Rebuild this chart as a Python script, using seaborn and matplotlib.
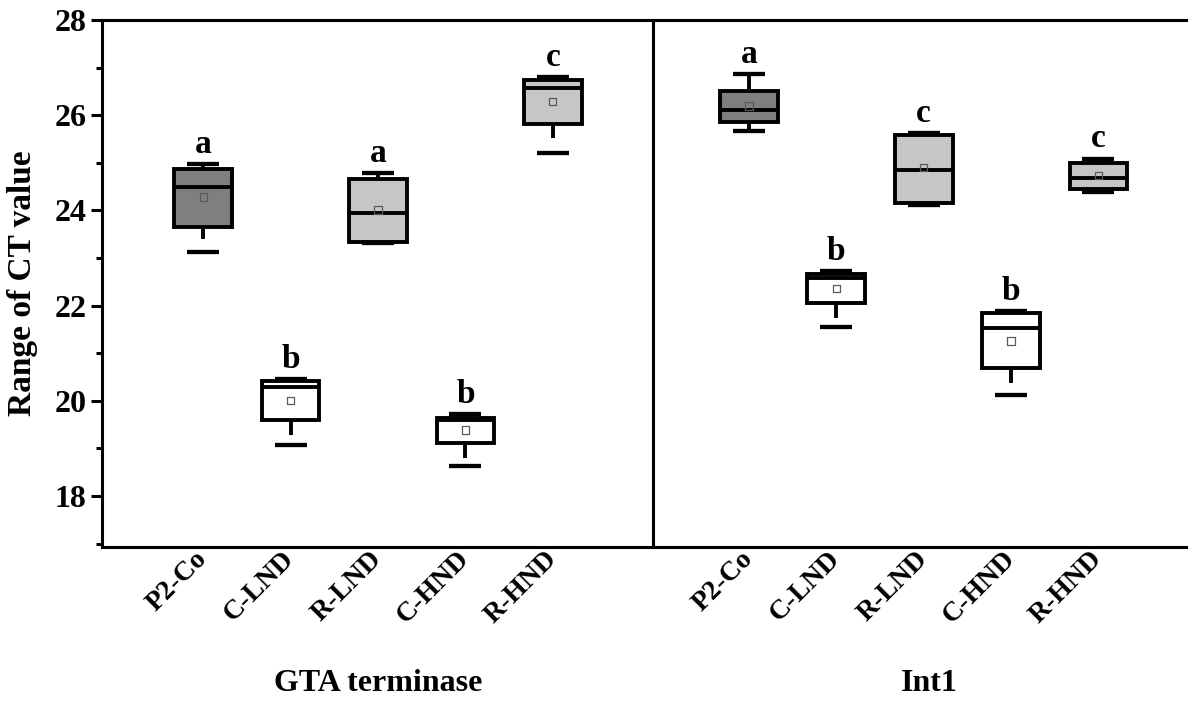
import numpy as np
import pandas as pd
import matplotlib
matplotlib.use("Agg")
import matplotlib.pyplot as plt
import seaborn as sns
from matplotlib.ticker import MultipleLocator

# ---------------- data ----------------
groups = ["P2-Co", "C-LND", "R-LND", "C-HND", "R-HND"]
panels = ["GTA terminase", "Int1"]

gta_min   = [23.13, 19.07, 23.31, 18.63, 25.21]
gta_wlo   = [23.39, 19.28, 23.34, 18.79, 25.53]
gta_q1    = [23.66, 19.59, 23.34, 19.11, 25.82]
gta_med   = [24.49, 20.30, 23.95, 19.60, 26.58]
gta_q3    = [24.88, 20.42, 24.67, 19.65, 26.73]
gta_whi   = [24.98, 20.45, 24.79, 19.73, 26.80]
gta_max   = [24.98, 20.45, 24.79, 19.73, 26.80]
gta_mean  = [24.28, 20.01, 24.01, 19.39, 26.29]
gta_sig   = ["a", "b", "a", "b", "c"]

int_min   = [25.67, 21.55, 24.11, 20.12, 24.39]
int_wlo   = [25.67, 21.75, 24.16, 20.38, 24.44]
int_q1    = [25.86, 22.05, 24.16, 20.68, 24.44]
int_med   = [26.10, 22.59, 24.85, 21.52, 24.69]
int_q3    = [26.51, 22.66, 25.58, 21.84, 25.00]
int_whi   = [26.86, 22.73, 25.63, 21.89, 25.09]
int_max   = [26.86, 22.73, 25.63, 21.89, 25.09]
int_mean  = [26.19, 22.36, 24.90, 21.26, 24.74]
int_sig   = ["a", "b", "c", "b", "c"]

fill_colors = ["#7f7f7f", "#ffffff", "#c6c6c6", "#ffffff", "#c6c6c6"]

panel_data = [
    dict(wlo=gta_wlo, q1=gta_q1, med=gta_med, q3=gta_q3, whi=gta_whi,
         mn=gta_min, mx=gta_max, mean=gta_mean, sig=gta_sig),
    dict(wlo=int_wlo, q1=int_q1, med=int_med, q3=int_q3, whi=int_whi,
         mn=int_min, mx=int_max, mean=int_mean, sig=int_sig),
]

# ---------------- style ----------------
sns.set_style("ticks")
plt.rcParams["font.family"] = ["Liberation Serif", "DejaVu Serif"]
plt.rcParams["font.weight"] = "bold"
plt.rcParams["axes.labelweight"] = "bold"
for k in ["text.color", "axes.labelcolor", "xtick.color", "ytick.color",
          "axes.edgecolor"]:
    plt.rcParams[k] = "black"

W, H = 1188, 702
fig = plt.figure(figsize=(W / 100, H / 100), dpi=100)

ax_l = 102 / W
ax_w = 552 / W
ax_b = 1 - 547 / H
ax_h = (547 - 20) / H
axes = [fig.add_axes([ax_l, ax_b, ax_w, ax_h]),
        fig.add_axes([653 / W, ax_b, ax_w, ax_h])]
xlims = [(-1.158, 5.158), (-1.097, 5.219)]

palette = dict(zip(groups, fill_colors))
LW = 2.8

for i, (ax, pdict, title) in enumerate(zip(axes, panel_data, panels)):
    rows = []
    for j, g in enumerate(groups):
        for key in ["wlo", "q1", "med", "q3", "whi"]:
            rows.append({"group": g, "value": pdict[key][j]})
    df = pd.DataFrame(rows)

    sns.boxplot(data=df, x="group", y="value", hue="group", order=groups,
                hue_order=groups, palette=palette, saturation=1, width=0.66,
                whis=(0, 100), showfliers=False, linecolor="black",
                linewidth=LW, legend=False, ax=ax,
                capprops={"visible": False})

    # min / max dashes
    sns.scatterplot(x=groups, y=pdict["mn"], marker="_", s=520, color="black",
                    linewidth=LW + 0.3, ax=ax, legend=False, zorder=4)
    sns.scatterplot(x=groups, y=pdict["mx"], marker="_", s=520, color="black",
                    linewidth=LW + 0.3, ax=ax, legend=False, zorder=4)
    # mean squares
    sns.scatterplot(x=groups, y=pdict["mean"], marker="s", s=28,
                    facecolor="none", edgecolor="#5a5a5a", linewidth=0.9,
                    ax=ax, legend=False, zorder=5)

    for j, g in enumerate(groups):
        ax.annotate(pdict["sig"][j], xy=(j, pdict["mx"][j]), xytext=(0, 3),
                    textcoords="offset points", ha="center", va="bottom",
                    fontsize=24, fontweight="bold")

    ax.set_xlim(*xlims[i])
    ax.set_ylim(16.93, 28)
    ax.set_xticks(range(len(groups)))
    ax.set_xticklabels(groups, rotation=45, ha="right", va="center",
                       rotation_mode="anchor", fontsize=20, fontweight="bold")
    ax.tick_params(axis="x", length=0, pad=6)
    ax.set_xlabel(title, fontsize=23, fontweight="bold", labelpad=29)
    for s in ax.spines.values():
        s.set_linewidth(2.2)
        s.set_visible(True)

    if i == 0:
        ax.set_ylabel("Range of CT value", fontsize=24, fontweight="bold",
                      labelpad=12)
        ax.yaxis.set_major_locator(MultipleLocator(2))
        ax.yaxis.set_minor_locator(MultipleLocator(1))
        ax.tick_params(axis="y", which="major", direction="out", length=8,
                       width=2.2, labelsize=23, pad=3)
        ax.tick_params(axis="y", which="minor", direction="out", length=4,
                       width=2.2)
        for lab in ax.get_yticklabels():
            lab.set_fontweight("bold")
    else:
        ax.set_ylabel("")
        ax.set_yticks([])
        ax.tick_params(axis="y", which="both", length=0, labelleft=False)

fig.savefig("out.png", dpi=100)
